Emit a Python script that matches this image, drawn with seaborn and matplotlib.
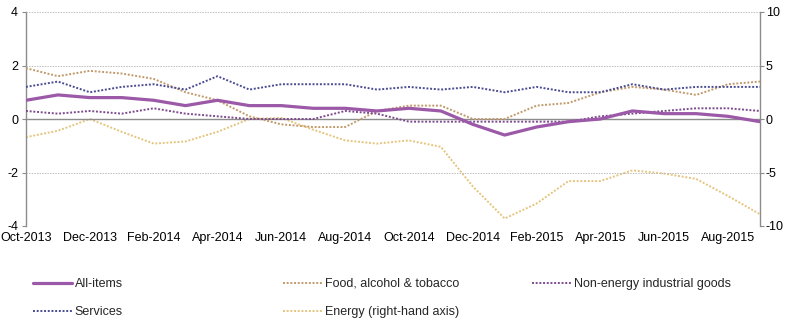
import matplotlib
matplotlib.use("Agg")
import matplotlib.pyplot as plt
import seaborn as sns
import pandas as pd

months = ["Oct-2013", "Nov-2013", "Dec-2013", "Jan-2014", "Feb-2014", "Mar-2014",
          "Apr-2014", "May-2014", "Jun-2014", "Jul-2014", "Aug-2014", "Sep-2014",
          "Oct-2014", "Nov-2014", "Dec-2014", "Jan-2015", "Feb-2015", "Mar-2015",
          "Apr-2015", "May-2015", "Jun-2015", "Jul-2015", "Aug-2015", "Sep-2015"]

all_items = [0.7, 0.9, 0.8, 0.8, 0.7, 0.5, 0.7, 0.5, 0.5, 0.4, 0.4, 0.3,
             0.4, 0.3, -0.2, -0.6, -0.3, -0.1, 0.0, 0.3, 0.2, 0.2, 0.1, -0.1]
food = [1.9, 1.6, 1.8, 1.7, 1.5, 1.0, 0.7, 0.1, -0.2, -0.3, -0.3, 0.3,
        0.5, 0.5, 0.0, 0.0, 0.5, 0.6, 1.0, 1.2, 1.1, 0.9, 1.3, 1.4]
neig = [0.3, 0.2, 0.3, 0.2, 0.4, 0.2, 0.1, 0.0, 0.0, 0.0, 0.3, 0.2,
        -0.1, -0.1, -0.1, -0.1, -0.1, -0.1, 0.1, 0.2, 0.3, 0.4, 0.4, 0.3]
services = [1.2, 1.4, 1.0, 1.2, 1.3, 1.1, 1.6, 1.1, 1.3, 1.3, 1.3, 1.1,
            1.2, 1.1, 1.2, 1.0, 1.2, 1.0, 1.0, 1.3, 1.1, 1.2, 1.2, 1.2]
energy = [-1.7, -1.1, 0.0, -1.2, -2.3, -2.1, -1.2, 0.0, 0.1, -1.0, -2.0, -2.3,
          -2.0, -2.6, -6.3, -9.3, -7.9, -5.8, -5.8, -4.8, -5.1, -5.6, -7.2, -8.9]

tick_labels = months[::2]
left_ticks = [-4, -2, 0, 2, 4]
right_ticks = [-10, -5, 0, 5, 10]

labels = {
    "all": "All-items",
    "food": "Food, alcohol & tobacco",
    "neig": "Non-energy industrial goods",
    "serv": "Services",
    "energy": "Energy (right-hand axis)",
}

sns.set_theme(style="white")
plt.rcParams["font.family"] = ["Liberation Sans", "DejaVu Sans"]
plt.rcParams["font.size"] = 9

DPI = 100
fig = plt.figure(figsize=(7.94, 3.21), dpi=DPI)
ax = fig.add_axes([26 / 794, 1 - 226 / 321, (760 - 26) / 794, (226 - 12) / 321])
ax2 = ax.twinx()

df = pd.DataFrame({"month": months, "all": all_items, "food": food,
                   "neig": neig, "serv": services, "energy": energy})

dot = (0, (1, 0.9))
c_all = "#9B59A8"
c_food = "#C19A6B"
c_neig = "#7E4A8E"
c_serv = "#4A4C92"
c_energy = "#E5C57E"

sns.lineplot(data=df, x="month", y="energy", ax=ax2, color=c_energy, lw=1.4,
             linestyle=dot, label=labels["energy"], legend=False)
sns.lineplot(data=df, x="month", y="food", ax=ax, color=c_food, lw=1.4,
             linestyle=dot, label=labels["food"], legend=False)
sns.lineplot(data=df, x="month", y="serv", ax=ax, color=c_serv, lw=1.4,
             linestyle=dot, label=labels["serv"], legend=False)
sns.lineplot(data=df, x="month", y="neig", ax=ax, color=c_neig, lw=1.4,
             linestyle=dot, label=labels["neig"], legend=False)
sns.lineplot(data=df, x="month", y="all", ax=ax, color=c_all, lw=2.3,
             label=labels["all"], legend=False)

for a in (ax, ax2):
    if a.get_legend() is not None:
        a.get_legend().remove()

ax.set_zorder(ax2.get_zorder() + 1)
ax.patch.set_visible(False)

n = len(months)
ax.set_xlim(0, n - 1)
ax.set_ylim(-4, 4)
ax2.set_ylim(-10, 10)
ax.set_yticks(left_ticks)
ax2.set_yticks(right_ticks)
ax.set_yticklabels([str(t) for t in left_ticks])
ax2.set_yticklabels([str(t) for t in right_ticks])
ax.set_xticks(range(0, n, 2))
ax.set_xticklabels(tick_labels)
ax.set_xlabel("")
ax.set_ylabel("")
ax2.set_ylabel("")

grid_c = "#BDBDBD"
axis_c = "#8C8C8C"
ax.yaxis.grid(True, color=grid_c, linestyle=(0, (1.5, 1.2)), lw=0.7)
ax.xaxis.grid(False)
ax2.grid(False)

for a in (ax, ax2):
    a.spines["top"].set_visible(False)
for s in ("left", "right"):
    ax.spines[s].set_visible(False)
ax2.spines["left"].set_color(axis_c)
ax2.spines["right"].set_color(axis_c)
ax2.spines["bottom"].set_visible(False)
ax2.spines["left"].set_linewidth(1.0)
ax2.spines["right"].set_linewidth(1.0)

# x-axis line at zero with tick marks pointing up, labels at the bottom
ax.spines["bottom"].set_position(("data", 0))
ax.spines["bottom"].set_color(axis_c)
ax.spines["bottom"].set_linewidth(1.0)
ax.spines["bottom"].set_zorder(1.5)
px2pt = 72 / DPI
ax_h_px = 226 - 12
pad_px = ax_h_px / 2 + 6
ax.tick_params(axis="x", direction="in", length=3 * px2pt, width=0.8,
               color=axis_c, pad=pad_px * px2pt, labelsize=9, labelcolor="#000000")
ax.tick_params(axis="y", left=True, direction="out", length=4 * px2pt, width=0.8,
               color=axis_c, pad=4 * px2pt, labelsize=9, labelcolor="#000000")
ax2.tick_params(axis="y", right=True, direction="out", length=4 * px2pt, width=0.8,
                color=axis_c, pad=2 * px2pt, labelsize=9, labelcolor="#000000")

# legends in three columns
h, l = [], []
for a in (ax, ax2):
    hh, ll = a.get_legend_handles_labels()
    h += hh
    l += ll
hmap = dict(zip(l, h))

cols = [
    ([labels["all"], labels["serv"]], 33 / 794),
    ([labels["food"], labels["energy"]], 283 / 794),
    ([labels["neig"]], 532 / 794),
]
top_y = 1 - 278 / 321
for labs, xpos in cols:
    leg = fig.legend([hmap[k] for k in labs], labs, loc="upper left",
                     bbox_to_anchor=(xpos, top_y), bbox_transform=fig.transFigure,
                     frameon=False, borderpad=0, borderaxespad=0,
                     handlelength=3.1, handletextpad=0.25, labelspacing=1.3,
                     fontsize=9)

fig.savefig("out.png", dpi=DPI)
